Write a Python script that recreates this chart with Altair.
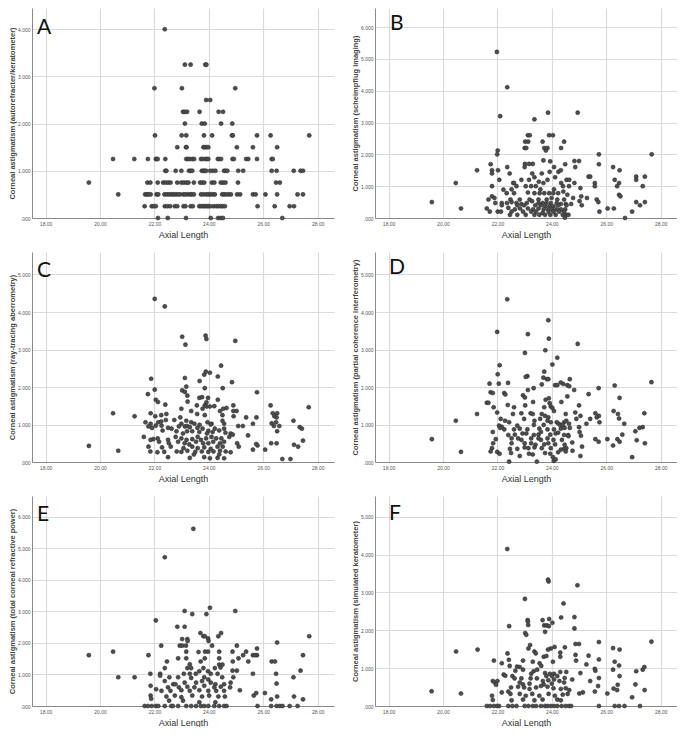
import altair as alt
import pandas as pd

X_TICKS = [18, 20, 22, 24, 26, 28]
X_DOMAIN = [17.5, 28.6]

# Panel A: autorefracter/keratometer values are quantised in 0.25 D steps
A_LEVELS = [4.0, 3.25, 2.75, 2.5, 2.25, 2.0, 1.75, 1.5, 1.25, 1.0, 0.75, 0.5, 0.25, 0.0]
A_X = [
    [22.38],
    [23.12, 23.33, 23.87, 23.91],
    [22.0, 23.01, 24.97],
    [23.9, 24.05],
    [23.05, 23.12, 23.2, 23.66, 24.36, 24.52],
    [23.12, 23.74, 23.85, 24.45, 24.86],
    [22.02, 23.0, 23.17, 23.82, 24.12, 24.85, 24.88, 25.77, 26.27, 27.69],
    [22.84, 23.16, 23.18, 23.8, 23.85, 23.92, 23.98, 25.03, 25.62, 26.51],
    [20.48, 21.26, 21.76, 22.05, 22.08, 22.12, 22.4, 23.17, 23.23, 23.3, 23.4, 23.46, 23.71, 23.77,
     23.87, 23.93, 23.98, 24.33, 24.38, 24.45, 24.87, 24.92, 25.37, 25.45, 25.77, 26.31, 26.35],
    [22.4, 22.44, 22.78, 22.99, 23.27, 23.33, 23.39, 23.74, 23.8, 23.85, 23.9, 24.05, 24.15, 24.24,
     24.56, 24.61, 24.68, 25.08, 25.26, 26.31, 26.49, 27.12, 27.37, 27.46],
    [19.59, 21.74, 21.85, 22.12, 22.32, 22.41, 22.5, 22.59, 22.84, 22.99, 23.08, 23.18, 23.25, 23.45,
     23.68, 23.75, 23.83, 24.11, 24.2, 24.44, 24.52, 24.61, 25.07, 26.47, 26.61],
    [20.67, 21.66, 21.72, 21.78, 21.86, 22.08, 22.14, 22.37, 22.46, 22.54, 22.63, 22.7, 22.78, 22.86,
     22.94, 23.06, 23.13, 23.22, 23.31, 23.37, 23.45, 23.71, 23.8, 23.9, 23.98, 24.06, 24.15, 24.22,
     24.49, 24.56, 24.64, 24.73, 24.81, 25.04, 25.15, 25.62, 25.72, 26.08, 26.51, 27.26, 27.46],
    [21.64, 21.9, 21.97, 22.05, 22.38, 22.48, 22.58, 22.75, 22.84, 23.07, 23.14, 23.33, 23.41, 23.65,
     23.71, 23.79, 23.85, 23.92, 23.98, 24.05, 24.17, 24.27, 24.35, 24.44, 24.51, 24.59, 25.79, 26.42,
     26.97, 27.13],
    [22.13, 22.49, 23.16, 24.07, 24.34, 24.44, 24.52, 26.7],
]

# Panel B: Scheimpflug imaging (axial length, astigmatism)
B_POINTS = [
    (21.98, 5.22), (22.36, 4.11), (22.1, 3.2), (23.36, 3.1), (23.86, 3.31), (24.95, 3.31),
    (23.12, 2.6), (23.19, 2.6), (23.9, 2.6), (24.04, 2.6),
    (23.02, 2.4), (23.13, 2.4), (23.66, 2.4), (24.45, 2.4),
    (23.0, 2.2), (23.06, 2.2), (23.72, 2.2), (23.84, 2.2), (24.34, 2.2),
    (22.01, 2.12), (21.99, 2.0), (23.78, 2.12), (25.73, 2.0), (27.67, 2.0),
    (23.69, 1.81), (24.83, 1.79), (25.0, 1.79), (23.94, 1.78),
    (21.75, 1.69), (23.01, 1.7), (23.16, 1.7), (23.3, 1.7), (24.49, 1.69), (25.73, 1.69),
    (21.8, 1.5), (21.25, 1.5), (22.02, 1.5), (22.36, 1.6), (23.0, 1.6), (24.08, 1.6), (24.86, 1.6), (26.25, 1.6),
    (21.8, 1.4), (22.45, 1.4), (23.28, 1.4), (23.63, 1.4), (23.92, 1.45), (24.24, 1.45), (24.33, 1.5), (26.49, 1.5),
    (27.1, 1.3), (27.42, 1.3), (25.35, 1.3), (25.41, 1.3),
    (22.07, 1.2), (22.58, 1.1), (22.88, 1.2), (23.16, 1.2), (23.36, 1.28), (23.52, 1.14), (23.84, 1.2),
    (24.12, 1.28), (24.54, 1.2), (24.64, 1.2), (24.83, 1.1), (26.31, 1.2), (27.1, 1.2),
    (20.47, 1.1), (22.61, 1.1), (23.69, 1.1), (24.34, 1.1), (25.58, 1.1), (26.47, 1.1),
    (21.8, 1.0), (22.52, 0.9), (22.7, 1.0), (23.04, 1.0), (23.24, 1.0), (23.41, 1.0), (23.58, 0.9),
    (24.08, 0.9), (24.41, 1.0), (24.63, 1.0), (25.05, 0.94), (25.58, 1.0), (26.4, 1.0), (27.34, 1.0),
    (22.22, 0.89), (22.34, 0.78), (22.61, 0.78), (23.12, 0.8), (23.36, 0.78), (23.55, 0.78), (23.72, 0.78),
    (23.9, 0.78), (24.05, 0.78), (24.23, 0.78), (24.42, 0.83), (24.57, 0.73), (26.47, 0.73), (26.52, 0.68),
    (25.08, 0.68),
    (21.8, 0.68), (21.89, 0.63), (21.67, 0.58), (22.48, 0.58), (22.82, 0.58), (23.18, 0.58), (23.51, 0.58),
    (23.81, 0.58), (23.99, 0.63), (24.2, 0.58), (24.45, 0.58), (24.78, 0.63), (25.29, 0.63), (25.65, 0.58),
    (19.59, 0.5), (21.92, 0.47), (22.16, 0.47), (22.35, 0.47), (22.52, 0.5), (22.7, 0.47), (22.88, 0.44),
    (23.08, 0.47), (23.27, 0.53), (23.51, 0.47), (23.66, 0.47), (23.8, 0.47), (23.96, 0.47), (24.18, 0.47),
    (24.33, 0.44), (24.51, 0.44), (24.71, 0.44), (25.02, 0.53), (25.71, 0.5), (27.1, 0.5), (27.42, 0.5),
    (22.16, 0.4), (22.73, 0.4), (22.98, 0.4), (23.39, 0.4), (23.6, 0.4), (23.76, 0.37), (23.92, 0.37),
    (24.06, 0.37), (24.23, 0.4), (24.54, 0.4), (25.1, 0.4), (27.24, 0.4),
    (20.66, 0.3), (21.61, 0.3), (22.4, 0.32), (22.64, 0.27), (22.83, 0.3), (23.12, 0.3), (23.31, 0.27),
    (23.51, 0.3), (23.7, 0.27), (23.87, 0.27), (24.02, 0.27), (24.18, 0.27), (24.33, 0.27), (24.49, 0.27),
    (26.05, 0.3), (26.28, 0.3),
    (21.72, 0.2), (22.01, 0.2), (22.13, 0.2), (22.52, 0.2), (22.94, 0.2), (23.24, 0.2), (23.42, 0.2),
    (23.66, 0.16), (23.88, 0.2), (24.06, 0.2), (24.27, 0.2), (24.45, 0.2), (25.75, 0.2), (26.95, 0.2),
    (22.46, 0.1), (22.73, 0.1), (23.04, 0.1), (23.36, 0.1), (23.54, 0.1), (23.75, 0.1), (23.94, 0.1),
    (24.14, 0.1), (24.4, 0.1), (24.53, 0.1), (24.61, 0.1),
    (24.48, 0.01), (26.69, 0.0),
]

# Panel C: ray-tracing aberrometry
C_POINTS = [
    (22.01, 4.35), (22.38, 4.15), (23.02, 3.34), (23.14, 3.13), (23.88, 3.37), (23.91, 3.28), (24.97, 3.23),
    (24.45, 2.57), (23.89, 2.41), (24.04, 2.38), (23.83, 2.33), (24.33, 2.28), (23.12, 2.24), (21.88, 2.22),
    (23.66, 2.16), (24.85, 2.13), (23.85, 1.97), (24.51, 1.97), (22.01, 1.93), (23.02, 1.91), (23.12, 1.87),
    (23.17, 2.01), (25.77, 1.86),
    (21.76, 1.81), (23.21, 1.77), (23.65, 1.71), (23.75, 1.73), (23.97, 1.71), (24.33, 1.66), (22.05, 1.66),
    (22.13, 1.6), (23.22, 1.61), (23.91, 1.59),
    (22.4, 1.53), (23.56, 1.51), (23.85, 1.51), (23.92, 1.48), (24.2, 1.49), (24.04, 1.48), (24.9, 1.51),
    (26.27, 1.51), (27.67, 1.46),
    (23.77, 1.42), (24.53, 1.42), (24.65, 1.44), (22.99, 1.42), (24.41, 1.36), (24.9, 1.36), (25.02, 1.36),
    (23.35, 1.36),
    (20.48, 1.3), (21.86, 1.3), (22.44, 1.28), (26.35, 1.3), (26.51, 1.3), (23.57, 1.28), (23.85, 1.25),
    (24.5, 1.25), (22.25, 1.25),
    (21.27, 1.22), (22.03, 1.22), (22.95, 1.19), (24.91, 1.22), (25.37, 1.19), (25.75, 1.19), (26.41, 1.22),
    (26.49, 1.19),
    (21.67, 1.06), (21.86, 1.02), (22.14, 1.06), (22.25, 1.08), (22.42, 1.12), (22.73, 1.12), (22.99, 1.02),
    (23.17, 1.1), (23.35, 1.06), (23.47, 1.02), (23.66, 0.99), (23.95, 1.06), (24.1, 1.02), (24.5, 1.1),
    (24.56, 1.02), (25.62, 1.02), (26.31, 1.03), (26.47, 1.06), (27.11, 1.1),
    (21.78, 0.95), (21.91, 0.91), (22.05, 0.97), (22.26, 0.97), (22.5, 0.91), (22.63, 0.89), (22.9, 0.95),
    (23.12, 0.95), (23.2, 0.96), (23.3, 0.93), (23.58, 0.91), (23.77, 0.89), (24.07, 1.0), (24.22, 0.89),
    (24.56, 0.89), (25.08, 0.96), (25.25, 0.96), (26.39, 0.96), (26.59, 0.96), (27.34, 0.93), (27.42, 0.89),
    (22.3, 0.84), (22.81, 0.82), (23.05, 0.76), (23.2, 0.82), (23.39, 0.82), (23.65, 0.8), (23.98, 0.83),
    (24.14, 0.8), (24.38, 0.84), (24.61, 0.78), (24.8, 0.76), (24.88, 0.73), (26.51, 0.82), (23.93, 0.76),
    (21.61, 0.67), (22.12, 0.63), (21.96, 0.61), (22.5, 0.59), (22.78, 0.67), (22.99, 0.63), (23.18, 0.59),
    (23.39, 0.61), (23.59, 0.67), (23.71, 0.59), (23.9, 0.63), (24.1, 0.67), (24.27, 0.63), (24.46, 0.63),
    (24.75, 0.67), (25.44, 0.71),
    (19.59, 0.43), (21.86, 0.59), (22.17, 0.54), (22.53, 0.5), (22.87, 0.54), (23.11, 0.5), (23.28, 0.47),
    (23.53, 0.54), (23.79, 0.5), (23.98, 0.5), (24.16, 0.54), (24.41, 0.5), (24.56, 0.54), (25.04, 0.5),
    (25.74, 0.48), (25.79, 0.44), (26.29, 0.5), (26.49, 0.5), (27.13, 0.46), (27.28, 0.41), (27.46, 0.57),
    (21.78, 0.41), (22.28, 0.39), (22.6, 0.41), (23.07, 0.37), (23.39, 0.41), (23.59, 0.37), (23.83, 0.39),
    (24.07, 0.35), (24.32, 0.41), (24.51, 0.41), (25.1, 0.41), (25.62, 0.33), (26.07, 0.33),
    (20.67, 0.3), (21.85, 0.28), (22.11, 0.26), (22.36, 0.27), (22.82, 0.28), (22.99, 0.27), (23.21, 0.3),
    (23.5, 0.27), (23.74, 0.28), (23.98, 0.27), (24.17, 0.28), (24.41, 0.3), (24.62, 0.28), (24.8, 0.26),
    (22.5, 0.13), (23.3, 0.11), (23.83, 0.13), (24.04, 0.1), (24.32, 0.11), (24.56, 0.1), (26.7, 0.08),
    (27.0, 0.08), (23.45, 0.2), (24.38, 0.2),
]

# Panel D: partial coherence interferometry
D_POINTS = [
    (22.36, 4.34), (23.87, 3.78), (21.99, 3.47), (23.12, 3.41), (23.89, 3.29), (24.95, 3.15),
    (23.01, 2.91), (23.76, 2.98), (24.2, 2.78), (24.02, 2.6), (22.08, 2.58), (23.1, 2.29), (23.72, 2.41),
    (22.01, 2.34), (21.71, 2.09), (22.05, 2.09), (23.04, 2.27), (23.69, 2.25), (23.82, 2.21), (23.87, 2.21),
    (24.33, 2.12), (24.42, 2.08), (24.66, 2.21),
    (22.39, 2.11), (23.12, 1.92), (23.33, 1.97), (23.63, 2.07), (24.12, 2.05), (24.2, 2.05), (24.57, 2.05),
    (24.64, 2.02), (24.82, 1.92), (25.72, 1.97), (26.31, 2.04), (27.66, 2.13),
    (21.75, 1.86), (21.83, 1.84), (22.25, 1.84), (22.29, 1.8), (22.94, 1.78), (23.01, 1.72), (23.31, 1.6),
    (23.77, 1.66), (23.89, 1.7), (23.92, 1.57), (24.57, 1.75), (25.35, 1.81), (26.49, 1.71),
    (21.61, 1.58), (21.67, 1.58), (21.86, 1.46), (22.38, 1.52), (22.61, 1.46), (23.02, 1.51), (23.72, 1.46),
    (23.96, 1.48), (24.02, 1.44), (24.35, 1.6), (25.0, 1.51),
    (21.25, 1.28), (21.99, 1.32), (22.57, 1.28), (22.88, 1.3), (23.22, 1.3), (23.3, 1.28), (23.63, 1.28),
    (23.75, 1.23), (23.87, 1.19), (24.08, 1.36), (24.51, 1.28), (24.86, 1.32), (25.05, 1.23), (25.6, 1.3),
    (25.73, 1.23), (26.27, 1.36), (26.43, 1.28), (27.4, 1.3),
    (22.12, 1.15), (22.28, 1.1), (22.43, 1.06), (22.98, 1.15), (23.36, 1.1), (23.57, 1.15), (23.84, 1.1),
    (23.96, 1.06), (24.18, 1.06), (24.45, 1.06), (24.53, 1.1), (24.9, 1.15), (25.41, 1.15), (25.65, 1.19),
    (25.75, 1.06), (26.47, 1.16), (20.47, 1.1),
    (22.06, 0.97), (22.16, 0.94), (22.1, 0.91), (22.73, 0.97), (23.34, 0.99), (23.7, 0.99), (24.25, 1.02),
    (24.31, 0.99), (24.4, 0.99), (24.63, 1.02), (25.27, 1.02), (26.66, 1.02),
    (22.25, 0.87), (22.61, 0.87), (22.82, 0.89), (23.1, 0.87), (23.54, 0.89), (23.84, 0.87), (24.08, 0.87),
    (24.33, 0.89), (24.47, 0.91), (24.66, 0.91), (25.0, 0.93),
    (21.83, 0.8), (22.4, 0.72), (22.64, 0.73), (22.92, 0.76), (23.06, 0.76), (23.34, 0.72), (23.51, 0.73),
    (23.6, 0.8), (23.94, 0.73), (24.14, 0.76), (24.23, 0.78), (24.45, 0.72), (24.6, 0.72), (25.02, 0.8),
    (27.07, 0.82), (27.22, 0.91), (27.34, 0.93),
    (21.94, 0.61), (19.59, 0.61), (22.52, 0.63), (22.76, 0.63), (22.88, 0.59), (23.24, 0.63), (23.51, 0.63),
    (23.6, 0.59), (23.84, 0.63), (24.06, 0.59), (24.37, 0.59), (24.61, 0.69), (25.07, 0.7), (25.6, 0.61),
    (25.72, 0.54), (26.04, 0.61), (26.41, 0.61), (26.49, 0.54), (26.59, 0.73), (27.12, 0.58), (27.42, 0.5),
    (21.84, 0.5), (22.52, 0.5), (23.0, 0.5), (23.24, 0.5), (23.4, 0.46), (23.72, 0.47), (23.87, 0.5),
    (24.12, 0.47), (24.47, 0.46), (24.75, 0.52), (26.25, 0.44),
    (21.8, 0.37), (22.46, 0.35), (22.73, 0.35), (23.0, 0.39), (23.14, 0.37), (23.36, 0.39), (23.63, 0.37),
    (23.96, 0.37), (24.33, 0.33), (24.45, 0.35), (24.53, 0.37), (25.11, 0.41),
    (21.75, 0.28), (20.66, 0.27), (21.99, 0.27), (22.08, 0.22), (22.5, 0.24), (22.82, 0.16), (23.16, 0.22),
    (23.3, 0.2), (23.75, 0.24), (23.94, 0.22), (24.23, 0.26), (24.51, 0.28), (24.76, 0.3), (25.05, 0.16),
    (26.95, 0.13),
    (22.43, 0.01), (23.45, 0.01), (24.04, 0.13), (24.07, 0.03), (24.14, 0.07),
]

# Panel E: total corneal refractive power
E_POINTS = [
    (23.43, 5.61), (22.38, 4.71),
    (23.11, 3.01), (23.39, 2.91), (23.91, 2.91), (24.04, 3.11), (24.97, 3.01),
    (22.05, 2.71), (22.84, 2.51), (23.11, 2.51),
    (23.69, 2.31), (23.8, 2.21), (23.85, 2.21), (24.35, 2.21), (24.45, 2.31), (27.69, 2.21),
    (23.02, 2.12), (23.21, 2.12), (23.22, 2.06), (23.97, 2.14), (23.99, 2.06), (26.51, 2.01),
    (22.25, 1.91), (22.93, 1.91), (23.02, 1.91), (23.16, 1.91), (24.12, 1.91), (25.03, 1.91),
    (19.59, 1.61), (20.48, 1.72), (21.78, 1.61), (23.17, 1.72), (23.62, 1.71), (23.86, 1.72), (23.97, 1.72),
    (24.38, 1.72), (24.87, 1.72), (25.37, 1.72), (25.62, 1.61), (25.77, 1.61), (25.7, 1.61), (25.77, 1.82),
    (27.46, 1.61), (25.26, 1.61),
    (22.46, 1.41), (22.87, 1.51), (23.17, 1.51), (23.7, 1.41), (23.85, 1.51), (24.38, 1.51), (24.88, 1.41),
    (25.09, 1.51), (25.45, 1.41), (26.31, 1.41), (26.43, 1.41),
    (22.38, 1.2), (23.21, 1.2), (23.3, 1.32), (23.35, 1.2), (23.65, 1.1), (23.8, 1.2), (23.97, 1.1),
    (24.22, 1.2), (24.38, 1.31), (24.43, 1.22), (24.5, 1.31), (24.87, 1.12), (25.03, 1.12), (27.37, 1.12),
    (21.85, 1.02), (22.21, 1.02), (23.08, 1.02), (23.3, 1.02), (23.52, 1.02), (24.07, 1.02), (24.32, 1.02),
    (25.62, 1.02), (26.47, 1.02), (27.11, 0.91), (20.67, 0.91), (21.27, 0.91), (22.21, 0.96), (22.55, 0.91),
    (22.87, 0.91), (23.35, 0.89), (23.83, 0.91), (23.98, 0.84), (24.49, 0.91), (24.9, 0.91),
    (22.38, 0.79), (22.69, 0.69), (22.77, 0.69), (23.11, 0.74), (23.53, 0.74), (23.75, 0.79), (24.07, 0.74),
    (24.24, 0.69), (24.56, 0.69), (24.8, 0.74), (26.49, 0.71),
    (21.86, 0.64), (22.06, 0.53), (22.5, 0.59), (22.9, 0.59), (23.21, 0.61), (23.47, 0.59), (23.83, 0.64),
    (24.2, 0.59), (24.44, 0.61), (24.78, 0.59),
    (22.26, 0.48), (22.59, 0.48), (22.99, 0.5), (23.3, 0.48), (23.65, 0.5), (23.98, 0.48), (24.27, 0.48),
    (24.56, 0.48), (25.14, 0.5), (25.65, 0.33), (26.06, 0.41), (25.74, 0.41),
    (21.86, 0.33), (22.44, 0.3), (22.75, 0.33), (22.99, 0.28), (23.39, 0.33), (23.75, 0.3), (24.01, 0.33),
    (24.35, 0.3), (24.59, 0.3), (26.51, 0.3), (27.13, 0.3), (21.88, 0.23), (22.54, 0.17), (23.05, 0.17),
    (23.65, 0.12), (24.24, 0.12), (26.29, 0.21), (27.46, 0.21),
    (21.64, 0.0), (21.76, 0.0), (21.9, 0.0), (22.05, 0.0), (22.14, 0.0), (22.38, 0.0), (22.62, 0.0),
    (22.68, 0.0), (22.87, 0.0), (23.17, 0.0), (23.35, 0.0), (23.53, 0.0), (23.71, 0.0), (23.83, 0.0),
    (23.98, 0.0), (24.2, 0.0), (24.38, 0.0), (24.56, 0.0), (24.65, 0.0), (25.79, 0.0), (26.29, 0.0),
    (26.49, 0.0), (26.61, 0.0), (26.71, 0.0), (26.97, 0.0), (27.26, 0.0),
]

# Panel F: simulated keratometer
F_POINTS = [
    (22.36, 4.15), (23.86, 3.34), (23.88, 3.29), (24.94, 3.19), (23.01, 2.83), (24.43, 2.71),
    (24.34, 2.34), (24.83, 2.35), (23.11, 2.27), (23.12, 2.23), (23.66, 2.27), (23.9, 2.3), (24.02, 2.2),
    (23.72, 2.13), (23.81, 2.13), (23.89, 2.11), (22.43, 2.11), (23.13, 2.14), (24.83, 2.05),
    (23.02, 1.93), (23.06, 1.88), (23.75, 1.96),
    (25.73, 1.69), (27.66, 1.7), (24.87, 1.64), (25.0, 1.64), (24.1, 1.56), (24.48, 1.55), (23.2, 1.61),
    (23.96, 1.52), (23.86, 1.49), (23.14, 1.52), (26.25, 1.53), (26.49, 1.49),
    (20.48, 1.44), (21.27, 1.49), (23.36, 1.44), (23.41, 1.39), (24.31, 1.41), (24.87, 1.35), (25.35, 1.33),
    (23.7, 1.3), (23.8, 1.32), (24.31, 1.3), (22.37, 1.39), (26.31, 1.17),
    (21.87, 1.2), (22.42, 1.22), (22.94, 1.2), (23.3, 1.17), (23.55, 1.13), (24.04, 1.17), (24.89, 1.2),
    (25.73, 1.23), (22.16, 1.13), (25.27, 1.1), (22.45, 1.06), (22.82, 1.03), (23.61, 1.06), (26.47, 1.07),
    (27.4, 1.03), (27.34, 0.96), (25.58, 0.98), (25.6, 0.93), (26.25, 0.96), (27.1, 0.92), (22.72, 1.04),
    (23.33, 0.92), (23.24, 0.85), (23.46, 0.96), (23.75, 0.87), (23.93, 0.85), (24.08, 0.85), (24.31, 0.9),
    (24.53, 0.9), (25.05, 0.87), (22.66, 0.93), (22.94, 0.96), (22.23, 0.83), (22.29, 0.8), (22.55, 0.79),
    (26.49, 0.79), (23.8, 0.79), (24.0, 0.79), (24.2, 0.79), (24.47, 0.74), (24.75, 0.7),
    (22.63, 0.73), (22.88, 0.73), (23.22, 0.73), (23.45, 0.73), (23.67, 0.66), (23.87, 0.68), (24.08, 0.7),
    (24.28, 0.66), (25.41, 0.66), (21.83, 0.66), (21.9, 0.62), (22.0, 0.66), (22.82, 0.62), (22.94, 0.57),
    (23.18, 0.59), (23.7, 0.57), (24.0, 0.59), (24.45, 0.62), (25.73, 0.74), (27.07, 0.57), (26.42, 0.56),
    (19.58, 0.39), (20.66, 0.33), (21.95, 0.56), (22.5, 0.49), (22.76, 0.51), (22.98, 0.49), (23.18, 0.45),
    (23.42, 0.49), (23.6, 0.53), (23.84, 0.51), (24.06, 0.47), (24.33, 0.45), (24.51, 0.47), (24.64, 0.42),
    (25.01, 0.33), (25.14, 0.36), (25.58, 0.38), (26.04, 0.33), (26.27, 0.46), (26.4, 0.42), (27.41, 0.42),
    (25.7, 0.53),
    (21.8, 0.27), (22.16, 0.36), (22.4, 0.38), (22.48, 0.32), (22.82, 0.32), (23.04, 0.27), (23.28, 0.32),
    (23.54, 0.27), (23.88, 0.32), (24.11, 0.27), (24.4, 0.3), (24.58, 0.32), (21.83, 0.16), (22.52, 0.15),
    (22.94, 0.17), (23.36, 0.15), (23.66, 0.17), (24.2, 0.17), (24.33, 0.15), (26.95, 0.23),
    (21.61, 0.0), (21.73, 0.0), (21.87, 0.0), (21.99, 0.0), (22.06, 0.0), (22.4, 0.0), (22.55, 0.0),
    (22.7, 0.0), (23.0, 0.0), (23.14, 0.0), (23.3, 0.0), (23.42, 0.0), (23.6, 0.0), (23.75, 0.0),
    (23.84, 0.0), (23.96, 0.0), (24.08, 0.0), (24.2, 0.0), (24.36, 0.0), (24.51, 0.0), (24.63, 0.0),
    (24.71, 0.0), (25.73, 0.0), (26.31, 0.0), (26.47, 0.0), (26.67, 0.0), (27.24, 0.0),
]

Y_TITLES = {
    "A": "Corneal astigmatism (autorefracter/keratometer)",
    "B": "Corneal astigmatism (scheimpflug imaging)",
    "C": "Corneal astigmatism (ray-tracing aberrometry)",
    "D": "Corneal astigmatism (partial coherence interferometry)",
    "E": "Corneal astigmatism (total corneal refractive power)",
    "F": "Corneal astigmatism (simulated keratometer)",
}
Y_MAX = {"A": 4.45, "B": 6.6, "C": 5.6, "D": 5.6, "E": 6.65, "F": 5.55}
Y_TICKS = {"A": [0, 1, 2, 3, 4], "B": [0, 1, 2, 3, 4, 5, 6], "C": [0, 1, 2, 3, 4, 5],
           "D": [0, 1, 2, 3, 4, 5], "E": [0, 1, 2, 3, 4, 5, 6], "F": [0, 1, 2, 3, 4, 5]}
LETTER_POS = {"A": (5, 26), "B": (15, 22), "C": (5, 25), "D": (14, 22), "E": (5, 25), "F": (14, 24)}

W, H = 302, 210


def to_df(points):
    return pd.DataFrame({"al": [p[0] for p in points], "ca": [p[1] for p in points]})


a_pts = [(x, lvl) for lvl, xs in zip(A_LEVELS, A_X) for x in xs]
DATA = {"A": to_df(a_pts), "B": to_df(B_POINTS), "C": to_df(C_POINTS),
        "D": to_df(D_POINTS), "E": to_df(E_POINTS), "F": to_df(F_POINTS)}


def panel(key):
    pts = alt.Chart(DATA[key]).mark_circle(
        size=17, color="#4d4d4d", opacity=1, stroke="#2b2b2b", strokeWidth=0.5
    ).encode(
        x=alt.X("al:Q",
                scale=alt.Scale(domain=X_DOMAIN, nice=False, zero=False),
                axis=alt.Axis(values=X_TICKS, format=".2f", title="Axial Length")),
        y=alt.Y("ca:Q",
                scale=alt.Scale(domain=[0, Y_MAX[key]], nice=False, zero=True),
                axis=alt.Axis(values=Y_TICKS[key],
                              labelExpr="datum.value == 0 ? '.000' : format(datum.value, '.3f')",
                              title=Y_TITLES[key])),
    )
    dx, dy = LETTER_POS[key]
    lab = alt.Chart(pd.DataFrame({"t": [key]})).mark_text(
        align="left", baseline="alphabetic", fontSize=21, font="Lato", color="#111"
    ).encode(x=alt.value(dx), y=alt.value(dy), text="t:N")
    return alt.layer(pts, lab).properties(width=W, height=H)


rows = [alt.hconcat(panel(l), panel(r), spacing=17) for l, r in [("A", "B"), ("C", "D"), ("E", "F")]]
chart = alt.vconcat(*rows, spacing=13).properties(padding=0).configure_view(
    stroke=None
).configure_axis(
    grid=True, gridColor="#dadada", gridWidth=1.2,
    domainColor="#8a8a8a", domainWidth=1,
    ticks=False, labelFontSize=5, labelColor="#555", labelFont="Liberation Sans",
    labelPadding=2, titleFont="Liberation Sans",
).configure_axisX(
    labelPadding=3, titleFontSize=9, titleFontWeight="normal", titleColor="#333", titlePadding=4,
).configure_axisY(
    titleFontSize=7.5, titleFontWeight="bold", titleColor="#444", titlePadding=1,
)

chart.save("out.html", embed_options={"renderer": "svg", "actions": False})
